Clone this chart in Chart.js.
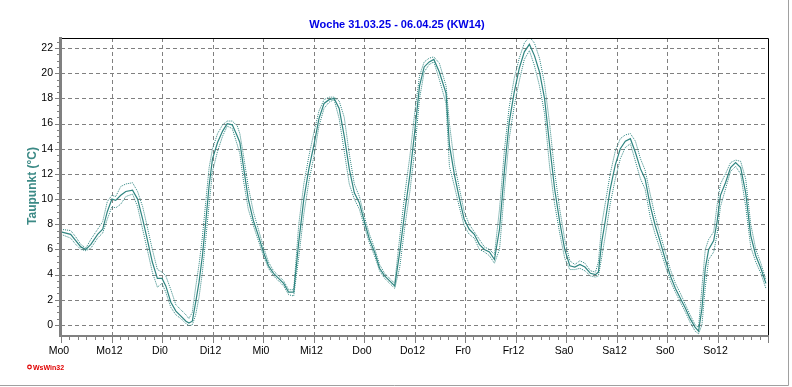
<!DOCTYPE html>
<html>
<head>
<meta charset="utf-8">
<script src="https://cdn.jsdelivr.net/npm/chart.js@4"></script>
<style>html,body{margin:0;padding:0;background:#fff;overflow:hidden}</style>
</head>
<body>
<canvas id="myChart" width="792" height="387"></canvas>
<script>
// chart texts
var chartTitle = 'Woche 31.03.25 - 06.04.25 (KW14)';
var yTitle = 'Taupunkt (°C)';
var xTickLabels = ['Mo0', 'Mo12', 'Di0', 'Di12', 'Mi0', 'Mi12', 'Do0', 'Do12', 'Fr0', 'Fr12', 'Sa0', 'Sa12', 'So0', 'So12'];
var xTickHours = [0, 12, 24, 36, 48, 60, 72, 84, 96, 108, 120, 132, 144, 156];
var yTickValues = [0, 2, 4, 6, 8, 10, 12, 14, 16, 18, 20, 22];

// hours since Monday 0:00
var hours = [
    0, 2.3, 3.5, 4.7, 5.9, 7.1, 8.7, 9.9, 11.0, 12.1,
    13.0, 14.2, 15.4, 17.0, 18.2, 19.4, 20.5, 21.7, 22.9, 24.0,
    24.9, 26.1, 27.3, 28.5, 29.7, 30.4, 31.2, 32.0, 32.8, 33.6,
    34.4, 35.2, 36.0, 37.2, 38.4, 39.5, 40.7, 41.9, 42.5, 43.3,
    44.5, 45.7, 46.9, 48.1, 49.3, 50.5, 51.7, 52.9, 54.1, 55.3,
    56.5, 57.7, 58.9, 60.1, 61.3, 62.5, 63.7, 64.9, 66.1, 67.3,
    68.5, 69.7, 70.9, 72.1, 73.3, 74.5, 75.7, 76.9, 78.1, 79.3,
    80.5, 81.7, 82.9, 84.1, 85.2, 86.3, 87.5, 88.6, 89.9, 91.5,
    92.3, 93.5, 94.7, 95.8, 97.0, 98.2, 99.4, 100.6, 101.8, 103.0,
    104.2, 105.4, 106.5, 107.7, 108.9, 110.1, 111.3, 112.5, 113.7, 114.9,
    116.1, 117.3, 118.5, 119.7, 120.9, 122.1, 123.3, 124.5, 125.8, 127.0,
    127.7, 128.5, 129.3, 130.5, 131.7, 132.9, 134.1, 135.3, 136.5, 137.7,
    138.8, 140.0, 141.2, 142.4, 143.6, 144.8, 146.0, 147.2, 148.4, 149.5,
    150.7, 151.5, 152.3, 153.1, 153.9, 155.1, 155.9, 156.7, 157.9, 159.1,
    160.3, 161.5, 162.7, 163.9, 165.1, 166.3, 167.5
];

// dew point (mean)
var dewpoint = [
    7.4, 7.2, 6.7, 6.2, 6.0, 6.4, 7.2, 7.6, 9.0, 10.0,
    9.9, 10.3, 10.6, 10.7, 10.0, 8.4, 6.8, 5.0, 3.7, 3.7,
    3.1, 1.8, 1.1, 0.7, 0.3, 0.15, 0.3, 1.8, 3.4, 5.5,
    8.2, 11.1, 13.2, 14.5, 15.4, 16.0, 15.9, 15.0, 14.5, 12.7,
    10.0, 8.3, 7.1, 5.8, 4.7, 4.1, 3.7, 3.3, 2.6, 2.6,
    6.6, 10.0, 12.4, 14.3, 16.4, 17.6, 17.9, 18.0, 17.2, 15.0,
    12.4, 10.5, 9.7, 8.2, 6.8, 5.8, 4.5, 3.9, 3.5, 3.1,
    5.8, 9.0, 11.9, 15.5, 19.0, 20.5, 20.9, 21.1, 20.1, 18.4,
    14.3, 11.9, 10.0, 8.4, 7.6, 7.2, 6.4, 6.0, 5.8, 5.2,
    7.6, 12.4, 16.1, 18.5, 20.4, 21.7, 22.3, 21.4, 20.1, 18.0,
    14.3, 10.8, 8.2, 6.0, 4.7, 4.6, 4.8, 4.6, 4.1, 4.0,
    4.2, 6.6, 8.2, 10.8, 12.7, 14.0, 14.6, 14.8, 13.7, 12.4,
    11.6, 9.5, 7.9, 6.6, 5.2, 3.9, 2.9, 2.1, 1.3, 0.5,
    -0.2, -0.5, 1.3, 4.5, 6.0, 6.7, 8.2, 10.3, 11.3, 12.5,
    12.9, 12.5, 10.5, 7.1, 5.5, 4.5, 3.3
];

// dew point (max, dotted)
var dewpointMax = [
    7.6, 7.5, 7.0, 6.4, 6.1, 6.8, 7.6, 8.2, 9.8, 10.3,
    10.2, 11.0, 11.2, 11.3, 10.6, 9.4, 7.8, 6.0, 4.4, 4.2,
    3.9, 2.8, 1.6, 1.2, 0.8, 0.5, 1.0, 3.0, 4.8, 7.0,
    9.8, 12.5, 14.0, 15.2, 15.9, 16.2, 16.2, 15.8, 15.2, 13.6,
    11.0, 9.0, 7.6, 6.2, 5.0, 4.3, 3.9, 3.5, 2.8, 2.8,
    8.0, 11.2, 13.4, 15.3, 17.0, 17.9, 18.1, 18.1, 17.8, 16.5,
    13.6, 11.2, 10.2, 8.6, 7.2, 6.1, 4.8, 4.1, 3.7, 3.3,
    7.0, 10.4, 13.4, 17.0, 19.8, 20.9, 21.2, 21.3, 20.8, 19.0,
    16.0, 12.8, 10.8, 9.0, 8.0, 7.4, 6.8, 6.2, 6.0, 5.6,
    9.2, 14.0, 17.3, 19.6, 21.2, 22.4, 22.9, 22.4, 21.2, 19.2,
    16.0, 12.2, 9.2, 6.8, 5.1, 4.8, 5.1, 4.9, 4.3, 4.2,
    5.0, 8.0, 9.6, 12.0, 13.8, 14.8, 15.1, 15.2, 14.6, 13.2,
    12.3, 10.4, 8.6, 7.2, 5.8, 4.4, 3.3, 2.5, 1.6, 0.8,
    0.0, -0.2, 3.0, 6.0, 6.8, 7.4, 9.5, 11.2, 12.0, 12.9,
    13.1, 13.0, 11.6, 8.0, 6.0, 4.9, 3.6
];

// dew point (min, dotted)
var dewpointMin = [
    7.2, 6.9, 6.4, 6.0, 5.9, 6.1, 6.9, 7.3, 8.4, 9.4,
    9.3, 9.6, 10.2, 10.4, 9.4, 7.6, 6.0, 4.2, 3.0, 3.3,
    2.6, 1.4, 0.8, 0.5, 0.1, -0.05, 0.0, 0.8, 2.2, 4.2,
    6.8, 9.6, 12.2, 13.8, 15.0, 15.8, 15.6, 14.3, 13.6, 11.6,
    9.2, 7.9, 6.7, 5.5, 4.5, 3.9, 3.5, 3.1, 2.4, 2.3,
    5.4, 8.8, 11.4, 13.4, 15.8, 17.2, 17.7, 17.9, 16.4, 13.8,
    11.2, 10.0, 9.2, 7.8, 6.5, 5.5, 4.3, 3.7, 3.3, 2.9,
    4.6, 7.8, 10.6, 14.0, 18.0, 20.1, 20.7, 20.9, 19.5, 17.6,
    12.6, 11.0, 9.3, 7.9, 7.2, 6.9, 6.0, 5.8, 5.5, 4.9,
    6.0, 10.8, 14.8, 17.4, 19.4, 21.1, 21.8, 20.6, 19.0, 16.8,
    12.6, 9.6, 7.3, 5.3, 4.4, 4.4, 4.5, 4.3, 3.9, 3.8,
    3.9, 5.4, 7.0, 9.6, 11.6, 13.2, 14.1, 14.4, 13.0, 11.6,
    10.8, 8.6, 7.2, 6.0, 4.7, 3.5, 2.6, 1.8, 1.0, 0.2,
    -0.5, -0.7, 0.0, 3.0, 5.2, 5.8, 7.2, 9.4, 10.8, 12.2,
    12.6, 12.0, 9.4, 6.2, 5.0, 4.1, 2.9
];

var lineColor = '#2f8580';

function toPoints(xs, ys) {
    return xs.map(function(x, i) { return {x: x, y: ys[i]}; });
}

// grid, axes, borders, titles
var framePlugin = {
    id: 'frame',
    beforeDatasetsDraw: function(chart) {
        var ctx = chart.ctx, a = chart.chartArea;
        var xs = chart.scales.x, ys = chart.scales.y;
        ctx.save();
        ctx.strokeStyle = '#808080';
        ctx.lineWidth = 1;
        ctx.setLineDash([4, 3]);
        yTickValues.forEach(function(v) {
            var y = Math.round(ys.getPixelForValue(v)) + 0.5;
            ctx.beginPath(); ctx.moveTo(a.left, y); ctx.lineTo(a.right, y); ctx.stroke();
        });
        xTickHours.forEach(function(h) {
            if (h === 0) return;
            var x = Math.round(xs.getPixelForValue(h)) + 0.5;
            ctx.beginPath(); ctx.moveTo(x, a.top); ctx.lineTo(x, a.bottom); ctx.stroke();
        });
        ctx.restore();
    },
    afterDraw: function(chart) {
        var ctx = chart.ctx, a = chart.chartArea;
        var xs = chart.scales.x, ys = chart.scales.y;
        ctx.save();
        // top and right border
        ctx.strokeStyle = '#000';
        ctx.lineWidth = 1;
        ctx.beginPath();
        ctx.moveTo(a.left, a.top + 0.5); ctx.lineTo(a.right + 0.5, a.top + 0.5);
        ctx.lineTo(a.right + 0.5, a.bottom);
        ctx.stroke();

        // axes
        ctx.strokeStyle = '#808080';
        ctx.lineWidth = 3;
        ctx.beginPath(); ctx.moveTo(a.left - 0.5, a.top - 1); ctx.lineTo(a.left - 0.5, a.bottom + 2); ctx.stroke();
        ctx.lineWidth = 2;
        ctx.beginPath(); ctx.moveTo(a.left - 2, a.bottom + 1); ctx.lineTo(a.right + 1, a.bottom + 1); ctx.stroke();

        // x ticks
        ctx.lineWidth = 1;
        for (var h = 0; h <= 168; h += 2) {
            var x = Math.round(xs.getPixelForValue(h)) + 0.5;
            var len = (h % 12 === 0) ? 6 : 3;
            ctx.beginPath(); ctx.moveTo(x, a.bottom + 2); ctx.lineTo(x, a.bottom + 2 + len); ctx.stroke();
        }
        // y ticks
        for (var v = 0; v <= 22.5; v += 0.5) {
            var y = Math.round(ys.getPixelForValue(v)) + 0.5;
            var l = (v % 2 === 0) ? 4 : 2;
            ctx.beginPath(); ctx.moveTo(a.left - 2, y); ctx.lineTo(a.left - 2 - l, y); ctx.stroke();
        }

        // outer frame
        ctx.strokeStyle = '#a0a0a0';
        ctx.beginPath(); ctx.moveTo(788.5, 0); ctx.lineTo(788.5, 385.5); ctx.lineTo(0, 385.5); ctx.stroke();

        // title
        ctx.fillStyle = '#0000e6';
        ctx.font = 'bold 11px "Liberation Sans", Arial, sans-serif';
        ctx.textAlign = 'center';
        ctx.textBaseline = 'alphabetic';
        ctx.fillText(chartTitle, 397, 28);

        // y axis title
        ctx.save();
        ctx.translate(35.5, 186);
        ctx.rotate(-Math.PI / 2);
        ctx.fillStyle = '#3c8a86';
        ctx.font = 'bold 12px "Liberation Sans", Arial, sans-serif';
        ctx.fillText(yTitle, 0, 0);
        ctx.restore();

        // logo
        ctx.strokeStyle = '#e00000';
        ctx.lineWidth = 1.2;
        ctx.beginPath(); ctx.arc(29.5, 367, 1.8, 0, Math.PI * 2); ctx.stroke();
        ctx.fillStyle = '#e00000';
        ctx.font = 'bold 7px "Liberation Sans", Arial, sans-serif';
        ctx.textAlign = 'left';
        ctx.fillText('WsWin32', 33, 369.5);
        ctx.restore();
    }
};

Chart.defaults.font.family = '"Liberation Sans", Arial, sans-serif';
Chart.defaults.font.size = 10.5;
Chart.defaults.color = '#000';

var ctx = document.getElementById('myChart').getContext('2d');
var chart = new Chart(ctx, {
    type: 'line',
    data: {
        datasets: [{
            data: toPoints(hours, dewpointMax),
            borderColor: lineColor,
            borderWidth: 1,
            borderDash: [1, 1],
            pointRadius: 0,
            tension: 0
        }, {
            data: toPoints(hours, dewpointMin),
            borderColor: lineColor,
            borderWidth: 1,
            borderDash: [1, 1],
            pointRadius: 0,
            tension: 0
        }, {
            data: toPoints(hours, dewpoint),
            borderColor: lineColor,
            borderWidth: 1.2,
            pointRadius: 0,
            tension: 0
        }]
    },
    options: {
        responsive: false,
        animation: false,
        devicePixelRatio: 1,
        layout: { padding: { top: 38, right: 24, left: 0, bottom: 0 } },
        plugins: { legend: { display: false }, tooltip: { enabled: false }, title: { display: false } },
        scales: {
            x: {
                type: 'linear',
                min: 0,
                max: 168,
                afterBuildTicks: function(scale) {
                    scale.ticks = xTickHours.map(function(h) { return {value: h}; });
                },
                afterFit: function(scale) { scale.height = 52; },
                ticks: {
                    autoSkip: false,
                    maxRotation: 0,
                    padding: 10,
                    labelOffset: -2,
                    callback: function(value) { return xTickLabels[xTickHours.indexOf(value)]; }
                },
                grid: { display: false, drawTicks: false },
                border: { display: false }
            },
            y: {
                min: -0.8,
                max: 22.8,
                afterBuildTicks: function(scale) {
                    scale.ticks = yTickValues.map(function(v) { return {value: v}; });
                },
                afterFit: function(scale) { scale.width = 61; },
                ticks: { padding: 8 },
                grid: { display: false, drawTicks: false },
                border: { display: false }
            }
        }
    },
    plugins: [framePlugin]
});
</script>
</body>
</html>
